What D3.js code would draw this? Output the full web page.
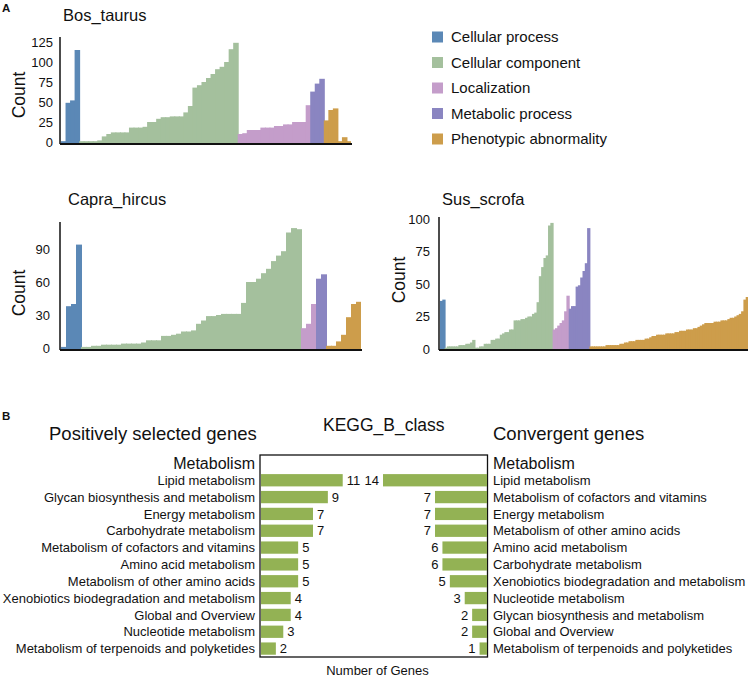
<!DOCTYPE html>
<html>
<head>
<meta charset="utf-8">
<script src="https://cdn.jsdelivr.net/npm/d3@7"></script>
<style>
  body { margin: 0; background: #fff; }
  svg { display: block; font-family: "Liberation Sans", Arial, sans-serif; }
  text { fill: #111; }
</style>
</head>
<body>
<div id="chart"></div>
<script>
// ---- data: panel A (GO / phenotype term counts, one bar per term) ----
const categories = ['Cellular process', 'Cellular component', 'Localization', 'Metabolic process', 'Phenotypic abnormality'];
const categoryColors = ['#5b88b6', '#a4c09d', '#c49dca', '#8a85c1', '#cd9d4b'];

const bosCellularProcess = [1, 49, 52, 115];
const bosCellularComponent = [1, 1, 1, 1, 2, 7, 10, 12, 12, 12, 12, 18, 18, 18, 19, 25, 25, 29, 31, 31, 32, 32, 32, 37, 45, 68, 71, 75, 80, 85, 91, 94, 100, 116, 124];
const bosLocalization = [10, 11, 15, 15, 15, 18, 18, 18, 20, 20, 22, 22, 25, 25, 25, 46];
const bosMetabolic = [63, 73, 79];
const bosPhenotypic = [27, 40, 42, 1, 6, 1];

const capraCellularProcess = [1, 38, 40, 94];
const capraCellularComponent = [1, 1, 2, 2, 3, 3, 3, 3, 4, 4, 4, 4, 5, 7, 7, 7, 11, 11, 12, 13, 15, 15, 16, 22, 25, 29, 29, 30, 31, 31, 31, 31, 41, 60, 60, 63, 68, 72, 79, 84, 88, 105, 109, 108];
const capraLocalization = [18, 22, 40];
const capraMetabolic = [63, 67];
const capraPhenotypic = [2, 2, 6, 12, 28, 40, 42];

const susCellularProcess = [37, 38];
const susCellularComponent = [1, 2, 2, 2, 2, 2, 3, 3, 3, 4, 4, 5, 7, 1, 1, 2, 2, 4, 4, 4, 7, 7, 8, 8, 11, 12, 13, 13, 15, 15, 22, 22, 22, 23, 23, 24, 25, 25, 27, 28, 36, 56, 63, 70, 72, 95, 97];
const susLocalization = [15, 16, 18, 20, 22, 29, 41];
const susMetabolic = [31, 33, 33, 48, 49, 55, 60, 66, 93];
const susPhenotypic = [2, 2, 2, 2, 2, 2, 2, 3, 3, 3, 3, 3, 3, 4, 4, 5, 5, 6, 6, 6, 7, 7, 7, 7, 8, 8, 9, 10, 10, 11, 11, 11, 11, 12, 12, 12, 12, 13, 13, 14, 14, 14, 15, 15, 15, 16, 16, 17, 18, 19, 20, 20, 20, 20, 21, 21, 21, 22, 22, 22, 23, 24, 24, 25, 26, 27, 29, 38, 40];

const bosTicks = [0, 25, 50, 75, 100, 125];
const capraTicks = [0, 30, 60, 90];
const susTicks = [0, 25, 50, 75, 100];

// ---- data: panel B (KEGG B class) ----
const psgTerms = ['Lipid metabolism', 'Glycan biosynthesis and metabolism', 'Energy metabolism', 'Carbohydrate metabolism',
  'Metabolism of cofactors and vitamins', 'Amino acid metabolism', 'Metabolism of other amino acids',
  'Xenobiotics biodegradation and metabolism', 'Global and Overview', 'Nucleotide metabolism',
  'Metabolism of terpenoids and polyketides'];
const psgCounts = [11, 9, 7, 7, 5, 5, 5, 4, 4, 3, 2];
const convTerms = ['Lipid metabolism', 'Metabolism of cofactors and vitamins', 'Energy metabolism',
  'Metabolism of other amino acids', 'Amino acid metabolism', 'Carbohydrate metabolism',
  'Xenobiotics biodegradation and metabolism', 'Nucleotide metabolism', 'Glycan biosynthesis and metabolism',
  'Global and Overview', 'Metabolism of terpenoids and polyketides'];
const convCounts = [14, 7, 7, 7, 6, 6, 5, 3, 2, 2, 1];

const W = 748, H = 680;
const svg = d3.select('#chart').append('svg').attr('width', W).attr('height', H);

// ---- panel A ----
const panels = [
  { name: 'Bos_taurus', series: [bosCellularProcess, bosCellularComponent, bosLocalization, bosMetabolic, bosPhenotypic],
    ticks: bosTicks, axisX: 60, bars: [61, 351], axisEnd: 352, yRange: [142, 42], axisTop: 37, base: 144,
    tickRight: 53, title: [63, 21], count: [25, 95] },
  { name: 'Capra_hircus', series: [capraCellularProcess, capraCellularComponent, capraLocalization, capraMetabolic, capraPhenotypic],
    ticks: capraTicks, axisX: 60, bars: [61, 361], axisEnd: 362, yRange: [348, 249], axisTop: 222, base: 350,
    tickRight: 50, title: [68, 205], count: [25, 293] },
  { name: 'Sus_scrofa', series: [susCellularProcess, susCellularComponent, susLocalization, susMetabolic, susPhenotypic],
    ticks: susTicks, axisX: 439, bars: [440, 748], axisEnd: 748, yRange: [349, 219], axisTop: 217, base: 350,
    tickRight: 430, title: [442, 205], count: [405, 280] }
];

svg.append('text').attr('x', 2).attr('y', 12).attr('font-size', 11.5).attr('font-weight', 'bold').text('A');

panels.forEach(p => {
  const g = svg.append('g');
  const flat = [];
  p.series.forEach((vals, ci) => vals.forEach(v => flat.push({ v, ci })));

  const x = d3.scaleBand().domain(d3.range(flat.length)).range(p.bars).padding(0);
  const y = d3.scaleLinear().domain([0, p.ticks[p.ticks.length - 1]]).range(p.yRange);

  // bars overlap by 1px so no seams show between neighbours
  g.selectAll('rect.bar')
    .data(flat)
    .enter()
    .append('rect')
    .attr('class', 'bar')
    .attr('x', (d, i) => x(i))
    .attr('width', (d, i) => x.bandwidth() + (i < flat.length - 1 ? 1 : 0))
    .attr('y', d => y(d.v))
    .attr('height', d => p.base - y(d.v))
    .attr('fill', d => categoryColors[d.ci]);

  const axis = d3.axisLeft(y).tickValues(p.ticks).tickSize(0).tickPadding(p.axisX - p.tickRight);
  const ag = g.append('g').attr('transform', `translate(${p.axisX},0)`).call(axis);
  ag.select('.domain').remove();
  ag.selectAll('text').attr('font-size', 13).attr('font-family', '"Liberation Sans", Arial, sans-serif').attr('fill', '#111');

  g.append('line')
    .attr('x1', p.axisX).attr('x2', p.axisX)
    .attr('y1', p.axisTop).attr('y2', p.base)
    .attr('stroke', '#111').attr('stroke-width', 1.5);
  g.append('line')
    .attr('x1', p.axisX).attr('x2', p.axisEnd)
    .attr('y1', p.base).attr('y2', p.base)
    .attr('stroke', '#111').attr('stroke-width', 2);

  g.append('text').attr('x', p.title[0]).attr('y', p.title[1]).attr('font-size', 16.5).text(p.name);
  g.append('text')
    .attr('transform', `translate(${p.count[0]},${p.count[1]}) rotate(-90)`)
    .attr('text-anchor', 'middle')
    .attr('font-size', 17.5)
    .text('Count');
});

// legend
const legend = svg.append('g').selectAll('g')
  .data(categories)
  .enter()
  .append('g')
  .attr('transform', (d, i) => `translate(432,${37 + i * 25.5})`);
legend.append('rect').attr('x', 0).attr('y', -5.5).attr('width', 11).attr('height', 11)
  .attr('fill', (d, i) => categoryColors[i]);
legend.append('text').attr('x', 19).attr('dy', '0.35em').attr('font-size', 15).text(d => d);

// ---- panel B ----
const barGreen = '#93b254';
const box = { x: 260, y: 455, w: 227.5, h: 202 };

svg.append('text').attr('x', 2).attr('y', 420).attr('font-size', 11.5).attr('font-weight', 'bold').text('B');
svg.append('text').attr('x', 323).attr('y', 431).attr('font-size', 17.5).text('KEGG_B_class');
svg.append('text').attr('x', 49).attr('y', 440).attr('font-size', 18.5).text('Positively selected genes');
svg.append('text').attr('x', 493).attr('y', 440).attr('font-size', 18.5).text('Convergent genes');

const rowKeys = ['header'].concat(d3.range(psgCounts.length));
const row = d3.scaleBand().domain(rowKeys).range([box.y, box.y + box.h]).paddingInner(0.27).paddingOuter(0.135);
const gx = d3.scaleLinear().domain([0, 14]).range([0, 104]);

const bg = svg.append('g');
bg.append('rect')
  .attr('x', box.x).attr('y', box.y).attr('width', box.w).attr('height', box.h)
  .attr('fill', 'none').attr('stroke', '#111').attr('stroke-width', 1.3);

const headerY = row('header') + row.bandwidth() / 2;
bg.append('text').attr('x', 255).attr('y', headerY).attr('dy', '0.35em').attr('text-anchor', 'end')
  .attr('font-size', 16).text('Metabolism');
bg.append('text').attr('x', 493).attr('y', headerY).attr('dy', '0.35em')
  .attr('font-size', 16).text('Metabolism');

const left0 = box.x + 1, right0 = box.x + box.w - 0.5;

// positively selected genes (left)
const lrow = bg.selectAll('g.lrow').data(psgCounts).enter().append('g').attr('class', 'lrow');
lrow.append('rect')
  .attr('x', left0).attr('y', (d, i) => row(i))
  .attr('width', d => gx(d)).attr('height', row.bandwidth())
  .attr('fill', barGreen);
lrow.append('text')
  .attr('x', d => left0 + gx(d) + 4).attr('y', (d, i) => row(i) + row.bandwidth() / 2)
  .attr('dy', '0.36em').attr('font-size', 13).text(d => d);
lrow.append('text')
  .attr('x', 255).attr('y', (d, i) => row(i) + row.bandwidth() / 2)
  .attr('dy', '0.36em').attr('text-anchor', 'end').attr('font-size', 13)
  .text((d, i) => psgTerms[i]);

// convergent genes (right)
const rrow = bg.selectAll('g.rrow').data(convCounts).enter().append('g').attr('class', 'rrow');
rrow.append('rect')
  .attr('x', d => right0 - gx(d)).attr('y', (d, i) => row(i))
  .attr('width', d => gx(d)).attr('height', row.bandwidth())
  .attr('fill', barGreen);
rrow.append('text')
  .attr('x', d => right0 - gx(d) - 4).attr('y', (d, i) => row(i) + row.bandwidth() / 2)
  .attr('dy', '0.36em').attr('text-anchor', 'end').attr('font-size', 13).text(d => d);
rrow.append('text')
  .attr('x', 493).attr('y', (d, i) => row(i) + row.bandwidth() / 2)
  .attr('dy', '0.36em').attr('font-size', 13)
  .text((d, i) => convTerms[i]);

svg.append('text').attr('x', 377.5).attr('y', 675).attr('text-anchor', 'middle').attr('font-size', 13)
  .text('Number of Genes');
</script>
</body>
</html>
